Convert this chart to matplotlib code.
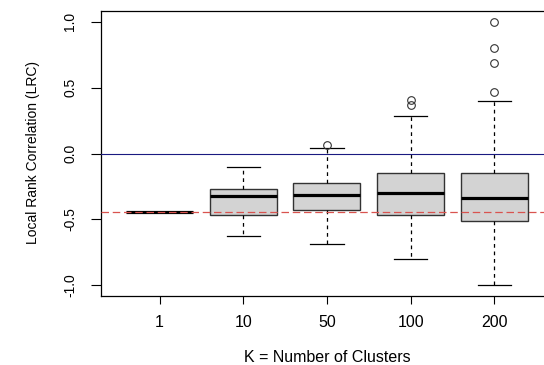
import matplotlib
matplotlib.use("Agg")
import matplotlib.pyplot as plt

plt.rcParams['font.family'] = ['Liberation Sans', 'DejaVu Sans']

# box statistics
k_labels = ['1', '10', '50', '100', '200']
whislo = [-0.445, -0.625, -0.686, -0.800, -1.000]
q1 = [-0.445, -0.468, -0.427, -0.468, -0.509]
med = [-0.445, -0.323, -0.316, -0.301, -0.339]
q3 = [-0.445, -0.270, -0.227, -0.148, -0.144]
whishi = [-0.445, -0.105, 0.039, 0.282, 0.399]
fliers = [[], [], [0.065], [0.369, 0.409], [0.468, 0.688, 0.802, 1.0]]
ref_line = -0.445

stats = []
for i, lab in enumerate(k_labels):
    stats.append(dict(label=lab, whislo=whislo[i], q1=q1[i], med=med[i],
                      q3=q3[i], whishi=whishi[i], fliers=fliers[i]))

fs_h = 11.5   # horizontal text
fs_v = 10     # rotated text
fig = plt.figure(figsize=(5.44, 3.65), dpi=100)
ax = fig.add_axes([101/544, 69/365, (552.8-101)/544, (354-69)/365])

ax.bxp(stats, positions=range(1, 6), widths=0.8, patch_artist=True,
       showcaps=True,
       boxprops=dict(facecolor='#d3d3d3', edgecolor='#333333', linewidth=1.0),
       medianprops=dict(color='black', linewidth=2.3, solid_capstyle='butt'),
       whiskerprops=dict(color='black', linewidth=0.9, linestyle=(0, (3, 3))),
       capprops=dict(color='black', linewidth=0.9),
       flierprops=dict(marker='o', markerfacecolor='none', markeredgecolor='#333333',
                       markersize=5.5, markeredgewidth=0.8),
       capwidths=0.4)

ax.axhline(0, color='#1a1a80', linewidth=0.8, zorder=5)
ax.axhline(ref_line, color='#d9534f', linewidth=0.9, linestyle=(0, (6, 3)), zorder=5)

ax.set_xlim(0.3, 5.7)
ax.set_ylim(-1.08, 1.08)
ax.set_yticks([-1.0, -0.5, 0.0, 0.5, 1.0])
ax.set_yticklabels(['-1.0', '-0.5', '0.0', '0.5', '1.0'], rotation=90, va='center')
ax.set_xticks(range(1, 6))
ax.set_xticklabels(k_labels)
ax.tick_params(axis='y', length=7, width=0.8, pad=10, labelsize=fs_v, colors='black')
ax.tick_params(axis='x', length=6, width=0.8, pad=8, labelsize=fs_h)
for s in ax.spines.values():
    s.set_linewidth(0.9)

fig.text(33/544, 1 - 153/365, 'Local Rank Correlation (LRC)', rotation=90,
         ha='center', va='center', fontsize=fs_v)
fig.text(327/544, 1 - 357/365, 'K = Number of Clusters', ha='center', va='center',
         fontsize=fs_h)

fig.savefig('out.png', dpi=100)
